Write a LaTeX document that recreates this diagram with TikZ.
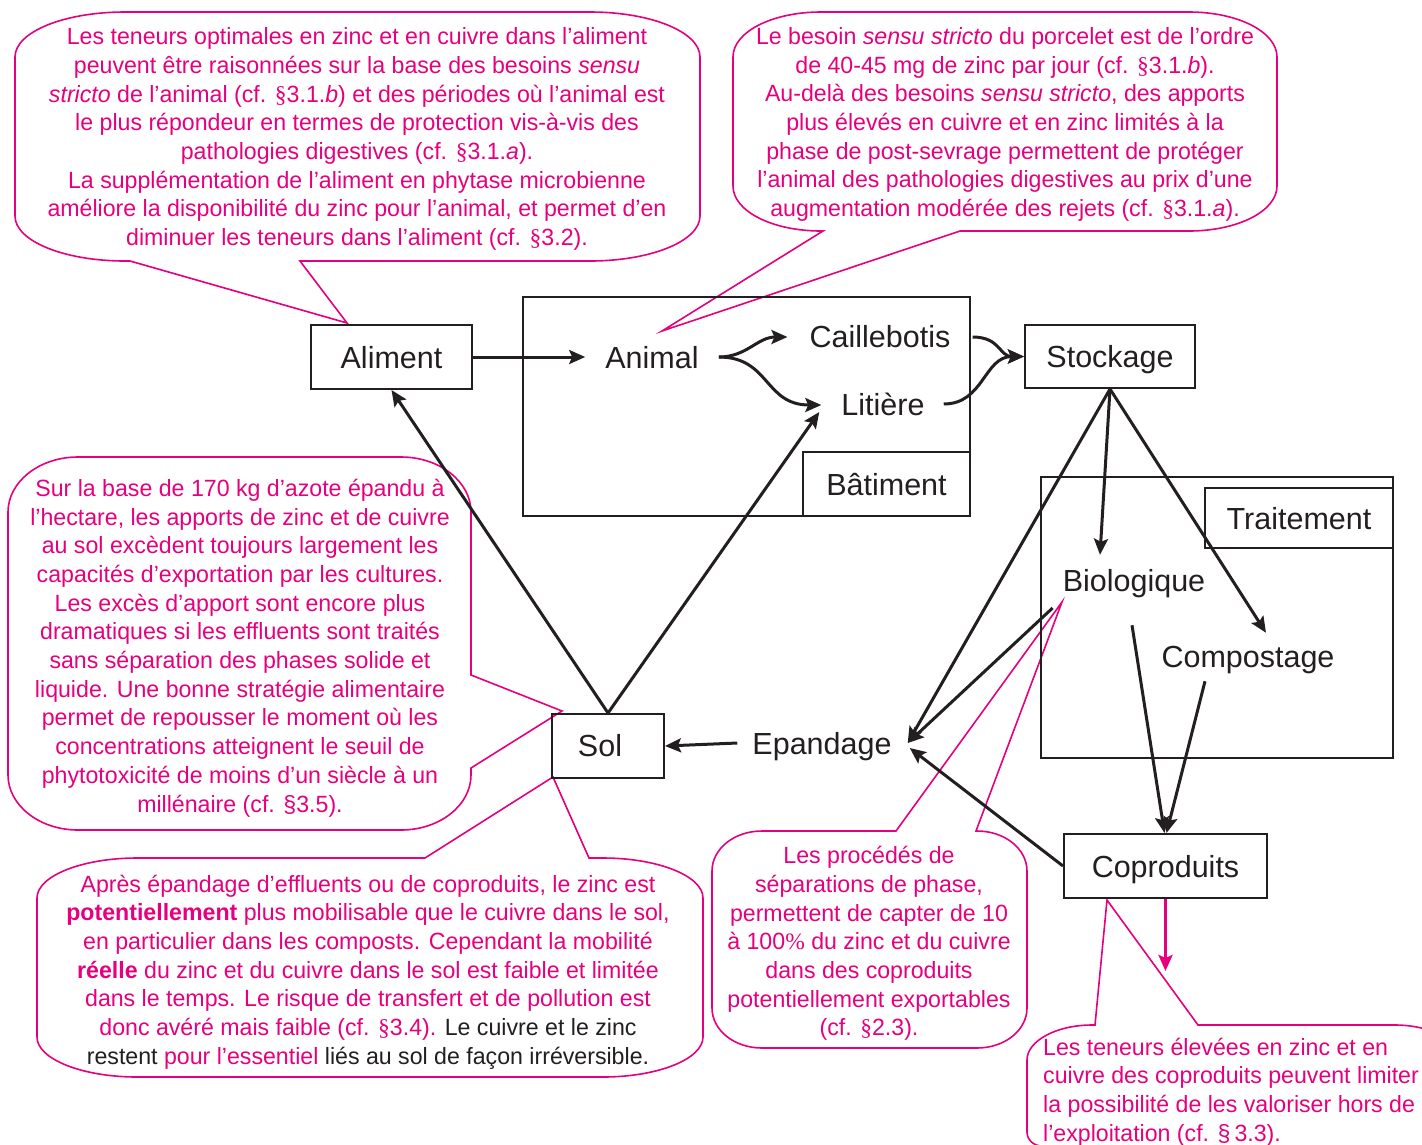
\documentclass[tikz,border=0pt]{standalone}
\usepackage{fontspec}
\setmainfont{Liberation Sans}
\newfontfamily\narrowfont{Liberation Sans}[FakeStretch=0.985]
\newfontfamily\seriffont{Liberation Serif}
\usetikzlibrary{arrows.meta}
\definecolor{pinkc}{RGB}{230,0,126}
\definecolor{ink}{RGB}{35,31,32}
\newcommand{\psec}{{\seriffont\S}}
\newcommand{\ppct}{{\seriffont\%}}
\begin{document}
\begin{tikzpicture}[x=1pt,y=-1pt,
  box/.style={draw=ink, line width=2pt, text=ink, font=\fontsize{30.5}{36}\selectfont, inner sep=0pt, text height=22pt, text depth=0pt},
  frame/.style={draw=ink, line width=2pt, inner sep=0pt},
  lbl/.style={text=ink, font=\fontsize{30.5}{36}\selectfont, inner sep=0pt, text height=22pt, text depth=0pt},
  bubble/.style={draw=pinkc, line width=1.6pt, fill=white, line join=miter},
  btext/.style={text=pinkc, font=\narrowfont\fontsize{23.5}{28.7}\selectfont, align=center, inner sep=0pt},
  arr/.style={draw=ink, line width=3pt, -{Stealth[length=16pt,width=14pt,inset=3pt]}},
  parr/.style={draw=pinkc, line width=3pt, -{Stealth[length=16pt,width=14pt,inset=3pt]}}
]
\useasboundingbox (0,0) rectangle (1422,1144);
\clip (0,0) rectangle (1422,1144);

% ---------- callouts ----------
% C1
\draw[bubble] (125,12) -- (590,12) .. controls (651,12) and (700,32) .. (700,57)
  -- (700,216) .. controls (700,241) and (651,261) .. (590,261)
  -- (300,261) -- (347,323) -- (130,261) -- (125,261)
  .. controls (64,261) and (15,241) .. (15,216)
  -- (15,57) .. controls (15,32) and (64,12) .. (125,12) -- cycle;
\node[btext] (t1) at (357,139) {Les teneurs optimales en zinc et en cuivre dans l’aliment\\
peuvent être raisonnées sur la base des besoins \textit{sensu}\\
\textit{stricto} de l’animal (cf. \psec3.1.\textit{b}) et des périodes où l’animal est\\
le plus répondeur en termes de protection vis-à-vis des\\
pathologies digestives (cf. \psec3.1.\textit{a}).\\
La supplémentation de l’aliment en phytase microbienne\\
améliore la disponibilité du zinc pour l’animal, et permet d’en\\
diminuer les teneurs dans l’aliment (cf. \psec3.2).};

% C2
\draw[bubble] (821,12) -- (1189,12) .. controls (1238,12) and (1277,32) .. (1277,57)
  -- (1277,186) .. controls (1277,211) and (1238,231) .. (1189,231)
  -- (960,231) -- (662,331) -- (823,231) -- (821,231)
  .. controls (772,231) and (733,211) .. (733,186)
  -- (733,57) .. controls (733,32) and (772,12) .. (821,12) -- cycle;
\node[btext] (t2) at (1005,124.5) {Le besoin \textit{sensu stricto} du porcelet est de l’ordre\\
de 40-45 mg de zinc par jour (cf. \psec3.1.\textit{b}).\\
Au-delà des besoins \textit{sensu stricto}, des apports\\
plus élevés en cuivre et en zinc limités à la\\
phase de post-sevrage permettent de protéger\\
l’animal des pathologies digestives au prix d’une\\
augmentation modérée des rejets (cf. \psec3.1.\textit{a}).};

% C3
\draw[bubble] (78,457) -- (401,457) .. controls (440,457) and (471,482) .. (471,512)
  -- (471,675) -- (562,711) -- (471,768) -- (471,775)
  .. controls (471,805) and (440,830) .. (401,830)
  -- (78,830) .. controls (39,830) and (8,805) .. (8,775)
  -- (8,512) .. controls (8,482) and (39,457) .. (78,457) -- cycle;
\node[btext] (t3) at (240,648) {Sur la base de 170 kg d’azote épandu à\\
l’hectare, les apports de zinc et de cuivre\\
au sol excèdent toujours largement les\\
capacités d’exportation par les cultures.\\
Les excès d’apport sont encore plus\\
dramatiques si les effluents sont traités\\
sans séparation des phases solide et\\
liquide. Une bonne stratégie alimentaire\\
permet de repousser le moment où les\\
concentrations atteignent le seuil de\\
phytotoxicité de moins d’un siècle à un\\
millénaire (cf. §3.5).};

% C4
\draw[bubble] (762,831) -- (896,831) -- (1062,602) -- (976,831) -- (977,831)
  .. controls (1005,831) and (1027,849) .. (1027,871)
  -- (1027,1008) .. controls (1027,1030) and (1005,1048) .. (977,1048)
  -- (762,1048) .. controls (734,1048) and (712,1030) .. (712,1008)
  -- (712,871) .. controls (712,849) and (734,831) .. (762,831) -- cycle;
\node[btext] (t4) at (869,943.5) {Les procédés de\\
séparations de phase,\\
permettent de capter de 10\\
à 100\ppct{} du zinc et du cuivre\\
dans des coproduits\\
potentiellement exportables\\
(cf. \psec2.3).};

% C5
\draw[bubble] (137,858) -- (425,858) -- (553,777) -- (589,858) -- (603,858)
  .. controls (658,858) and (703,876) .. (703,898)
  -- (703,1037) .. controls (703,1059) and (658,1077) .. (603,1077)
  -- (137,1077) .. controls (82,1077) and (37,1059) .. (37,1037)
  -- (37,898) .. controls (37,876) and (82,858) .. (137,858) -- cycle;
\node[btext] (t5) at (368,972) {Après épandage d’effluents ou de coproduits, le zinc est\\
\textbf{potentiellement} plus mobilisable que le cuivre dans le sol,\\
en particulier dans les composts. Cependant la mobilité\\
\textbf{réelle} du zinc et du cuivre dans le sol est faible et limitée\\
dans le temps. Le risque de transfert et de pollution est\\
donc avéré mais faible (cf. \psec3.4). \textcolor{ink}{Le cuivre et le zinc}\\
\textcolor{ink}{restent} pour l’essentiel \textcolor{ink}{liés au sol de façon irréversible.}};

% C6
\draw[bubble] (1092,1025) -- (1095,1025) -- (1107,900) -- (1198,1025) -- (1395,1025)
  .. controls (1431,1025) and (1460,1041) .. (1460,1060)
  -- (1460,1160) -- (1042,1146)
  .. controls (1034,1146) and (1027,1140) .. (1027,1132)
  -- (1027,1060) .. controls (1027,1041) and (1056,1025) .. (1092,1025) -- cycle;
\node[btext, align=left, anchor=west] (t6) at (1043,1092) {Les teneurs élevées en zinc et en\\
cuivre des coproduits peuvent limiter\\
la possibilité de les valoriser hors de\\
l’exploitation (cf. \S\,3.3).};

% ---------- diagram ----------
\node[frame, minimum width=447pt, minimum height=219pt] (batiment) at (746.5,406.5) {};
\node[box, minimum width=167pt, minimum height=64pt] (batlbl) at (886.5,484) {Bâtiment};
\node[frame, minimum width=352pt, minimum height=281pt] (trait) at (1217,617.5) {};
\node[box, minimum width=188pt, minimum height=60pt] (traitlbl) at (1299,518) {Traitement};

\node[box, minimum width=161pt, minimum height=64pt] (aliment) at (391.5,357) {Aliment};
\node[lbl] (animal) at (652,357) {Animal};
\node[lbl] (cail) at (880,336) {Caillebotis};
\node[lbl] (lit) at (883,404) {Litière};
\node[box, minimum width=170pt, minimum height=63pt] (stock) at (1110,356.5) {Stockage};
\node[lbl] (bio) at (1134,580) {Biologique};
\node[lbl] (comp) at (1248,656) {Compostage};
\node[lbl] (epand) at (822,743) {Epandage};
\node[frame, minimum width=112pt, minimum height=64pt] (sol) at (608,746) {};
\node[lbl] (sollbl) at (600,745) {Sol};
\node[box, minimum width=203pt, minimum height=64pt] (copro) at (1165.5,866) {Coproduits};

\coordinate (aE) at ([xshift=20pt]animal.east);
\coordinate (epT) at ([xshift=16pt]epand.east);

\draw[arr] (aliment.east) -- ([xshift=-20pt]animal.west);
\draw[arr] (aE) .. controls +(28,0) and +(-30,0) .. ([xshift=-22pt,yshift=-1pt]cail.west);
\draw[arr] (aE) .. controls +(51,0) and +(-57,0) .. ([xshift=-20pt,yshift=-1pt]lit.west);
\draw[arr] ([xshift=22pt,yshift=-1pt]cail.east) .. controls +(28,0) and +(-25,0) .. (stock.west);
\draw[arr] ([xshift=19pt]lit.east) .. controls +(40,0) and +(-40,0) .. (stock.west);
\draw[arr] (sol.north) -- (aliment.south);
\draw[arr] (sol.north) -- ([xshift=-22pt,yshift=-8pt]lit.west);
\draw[arr] (stock.south) -- ([xshift=-34pt,yshift=14pt]bio.north);
\draw[arr] (stock.south) -- ([xshift=18pt,yshift=12pt]comp.north);
\draw[arr] (stock.south) -- (epT);
\draw[arr] ([xshift=-10pt,yshift=-28pt]bio.west) -- (epT);
\draw[arr] ([xshift=-2pt,yshift=-34pt]bio.south) -- ([xshift=-1pt]copro.north);
\draw[arr] ([xshift=-43pt,yshift=-14pt]comp.south) -- ([xshift=1pt]copro.north);
\draw[arr] (copro.west) -- ([xshift=18pt,yshift=-5pt]epand.east);
\draw[arr] ([xshift=-15pt]epand.west) -- (sol.east);
\coordinate (pend) at ([yshift=-72pt]copro.south);
\draw[parr] (copro.south) -- (pend);
\end{tikzpicture}
\end{document}
